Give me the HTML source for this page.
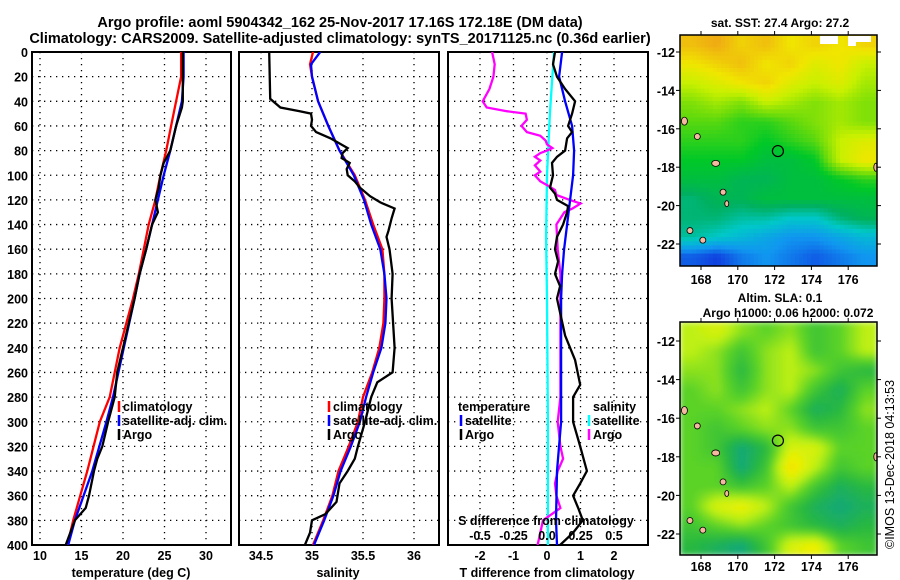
<!DOCTYPE html>
<html><head><meta charset="utf-8"><style>
body{margin:0;background:#fff;}
svg{display:block;font-family:"Liberation Sans",sans-serif;font-weight:bold;}
</style></head><body>
<svg id="chart" width="900" height="580" viewBox="0 0 900 580" xmlns="http://www.w3.org/2000/svg">
<defs>
<filter id="blur" x="0" y="0" width="1" height="1"><feGaussianBlur stdDeviation="3"/></filter>
<clipPath id="clipTop"><rect x="680" y="35" width="197" height="231"/></clipPath>
<clipPath id="clipBot"><rect x="680" y="322" width="197" height="233"/></clipPath>
<clipPath id="c1"><rect x="32" y="52" width="199" height="493"/></clipPath>
<clipPath id="c2"><rect x="239" y="52" width="200" height="493"/></clipPath>
<clipPath id="c3"><rect x="448" y="52" width="200" height="493"/></clipPath>
</defs>
<text x="340" y="27" font-size="14.5" text-anchor="middle">Argo profile: aoml 5904342_162 25-Nov-2017 17.16S 172.18E (DM data)</text>
<text x="340" y="43" font-size="14.5" text-anchor="middle">Climatology: CARS2009. Satellite-adjusted climatology: synTS_20171125.nc (0.36d earlier)</text>
<text x="780" y="27" font-size="12" text-anchor="middle">sat. SST: 27.4 Argo: 27.2</text>
<text x="780" y="302" font-size="12" text-anchor="middle">Altim. SLA: 0.1</text>
<text x="788" y="317" font-size="12" text-anchor="middle">Argo h1000: 0.06 h2000: 0.072</text>
<text transform="translate(894,549) rotate(-90)" font-size="12.5" font-weight="normal">©IMOS 13-Dec-2018 04:13:53</text>
<g id="g1"></g>
<g id="g2"></g>
<g id="g3"></g>
<g id="gm1"></g>
<g id="gm2"></g>
</svg>
<script>
// ---------- data ----------
const depthTicks=[0,20,40,60,80,100,120,140,160,180,200,220,240,260,280,300,320,340,360,380,400];
const tTicks=[10,15,20,25,30];
const sTicks=[34.5,35,35.5,36];
const dTTicks=[-2,-1,0,1,2];
const dSTicks=[-0.5,-0.25,0,0.25,0.5];
const dSTickLabels=["-0.5","-0.25","0.0","0.25","0.5"];

const climTDepth=[0,20,40,60,80,100,120,140,160,180,200,240,280,300,340,380,400];
const climT=[27.0,27.0,26.4,25.8,25.2,24.5,23.9,23.1,22.5,21.9,21.2,19.6,18.4,17.2,15.7,14.0,13.3];
const satT=[27.3,27.3,27.1,26.4,25.7,24.9,24.2,23.5,22.8,22.0,21.4,20.1,18.8,18.0,16.3,14.2,13.4];
const argoTDepth=[0,20,40,45,60,80,90,100,110,120,130,140,160,180,200,260,280,300,320,330,340,360,370,380,400];
const argoT=[27.2,27.2,27.2,27.1,26.4,25.7,24.9,24.5,24.3,23.9,24.2,23.5,22.8,22.0,21.4,19.3,19.0,18.2,17.5,16.9,16.5,15.9,15.5,14.2,13.1];

const climSDepth=[0,10,20,40,60,80,100,120,140,160,180,200,220,240,260,280,300,320,340,360,380,400];
const climS=[35.01,34.98,35.00,35.06,35.16,35.27,35.42,35.52,35.60,35.69,35.71,35.71,35.70,35.66,35.59,35.50,35.45,35.36,35.26,35.20,35.11,35.01];
const satS=[35.08,34.99,35.00,35.06,35.16,35.27,35.41,35.51,35.58,35.67,35.71,35.73,35.72,35.68,35.60,35.53,35.47,35.38,35.28,35.21,35.12,35.02];
const argoSDepth=[0,38,45,48,50,55,60,65,70,78,82,86,90,95,100,105,110,117,122,127,135,145,150,160,180,200,240,260,268,280,300,320,330,340,350,365,375,380,390,400];
const argoS=[34.58,34.59,34.69,34.88,34.99,35.00,34.99,35.04,35.18,35.35,35.30,35.29,35.37,35.34,35.35,35.42,35.47,35.57,35.67,35.81,35.78,35.75,35.73,35.76,35.79,35.78,35.81,35.79,35.64,35.58,35.52,35.45,35.42,35.35,35.27,35.24,35.13,35.00,34.98,34.93];

const satDTDepth=[0,20,40,60,80,100,120,140,160,180,200,300,340,380,400];
const satDT=[0.45,0.36,0.54,0.75,0.81,0.78,0.69,0.60,0.51,0.45,0.42,0.42,0.30,0.27,0.30];
const argoDTDepth=[0,10,20,30,40,50,60,65,70,80,85,90,100,110,115,120,125,130,140,150,160,170,180,190,200,230,250,270,280,300,320,340,350,360,370,380,390,400];
const argoDT=[0.24,0.18,0.30,0.54,0.84,0.75,0.63,0.75,0.60,0.54,0.30,0.15,0.18,0.09,0.24,0.30,0.63,0.60,0.48,0.30,0.24,0.33,0.24,0.39,0.30,0.54,0.84,0.99,0.78,0.78,0.99,1.19,0.99,0.78,0.93,1.07,0.78,0.39];
const satDSDepth=[0,50,100,150,200,300,400];
const satDS=[0.052,0.022,0,-0.007,0,0.007,0.007];
const argoDSDepth=[0,10,20,30,40,45,48,50,55,60,65,68,72,75,78,80,82,85,88,92,97,100,105,108,112,116,120,123,127,130,135,140,160,180,200,240,280,300,320,330,340,350,360,370,380,390,400];
const argoDS=[-0.41,-0.39,-0.40,-0.43,-0.48,-0.45,-0.30,-0.16,-0.15,-0.19,-0.15,-0.05,-0.01,0,0.04,0,-0.05,-0.09,-0.05,-0.09,-0.05,-0.09,-0.05,0,0.06,0.07,0.17,0.25,0.19,0.13,0.10,0.07,0.08,0.10,0.10,0.10,0.10,0.08,0.10,0.12,0.08,0.06,0.07,0.10,-0.03,-0.05,-0.07];

const lonTicks=[168,170,172,174,176];
const latTicks=[-12,-14,-16,-18,-20,-22];
const argoLon=172.18, argoLat=-17.16;
const sstGrid=[
[28.2,28.3,28.1,28.2,28.0,28.1,28.0,28.1],
[28.0,28.1,28.2,28.0,28.1,27.9,28.0,27.8],
[27.8,27.9,28.0,28.1,27.9,27.8,27.9,27.7],
[27.6,27.7,27.6,27.8,27.7,27.6,27.7,27.6],
[27.5,27.5,27.4,27.4,27.5,27.6,27.7,27.6],
[27.4,27.4,27.4,27.3,27.4,27.5,27.8,27.9],
[27.3,27.3,27.3,27.2,27.2,27.3,27.8,28.0],
[27.2,27.2,27.1,27.1,27.2,27.2,27.3,27.4],
[27.0,27.1,27.1,27.2,27.2,27.2,27.2,27.2],
[27.0,27.0,26.9,26.9,26.8,26.8,27.0,27.1],
[26.9,26.8,26.7,26.6,26.5,26.5,26.6,26.7],
[26.3,26.2,26.4,26.5,26.4,26.3,26.4,26.5]];
const slaGrid=[
[0.5,0.6,0.4,0.3,0.4,0.2,0.3,0.5],
[0.5,0.4,0.2,0.4,0.5,0.2,0.3,0.5],
[0.4,0.4,0.1,0.4,0.5,0.4,0.2,0.1],
[0.3,0.4,0.2,0.4,0.5,0.2,0.0,0.3],
[0.3,0.3,0.4,0.5,0.3,0.0,0.1,0.4],
[0.3,0.2,0.3,0.4,0.4,0.2,0.2,0.3],
[0.3,0.2,-0.1,0.1,0.6,0.6,0.3,0.3],
[0.3,0.3,-0.1,0.2,0.8,0.5,0.2,0.3],
[0.3,0.3,0.2,0.3,0.5,0.2,0.0,0.1],
[0.3,0.6,0.7,0.5,0.2,0.0,-0.1,0.0],
[0.2,0.3,0.4,0.3,0.2,0.1,0.0,0.1],
[0.1,0.0,-0.1,0.2,0.6,0.7,0.3,0.2]];

// ---------- helpers ----------
const NS="http://www.w3.org/2000/svg";
function mk(p,tag,at){const e=document.createElementNS(NS,tag);for(const k in at)e.setAttribute(k,at[k]);p.appendChild(e);return e;}
const yD=d=>52+d*1.2325;
const xT=t=>40+(t-10)*8.3;
const xS=s=>261+(s-34.5)*102;
const xDT=t=>547+t*33.5;
const xDS=s=>547+s*134;

function frame(g,x0,x1,vx,showDepth){
  depthTicks.forEach(d=>{const l=mk(g,'line',{x1:x0,x2:x1,y1:yD(d),y2:yD(d),stroke:'#000','stroke-width':1.3,'stroke-dasharray':'1.3 4.7'});
    
    
    if(showDepth){const t=mk(g,'text',{x:28,y:yD(d)+5,'font-size':12.5,'text-anchor':'end'});t.textContent=d;
      
      }
  });
  vx.forEach(x=>{const l=mk(g,'line',{x1:x,x2:x,y1:52,y2:545,stroke:'#000','stroke-width':1.3,'stroke-dasharray':'1.3 4.7'});
    
    });
  const r=mk(g,'rect',{x:x0,y:52,width:x1-x0,height:493,fill:'none',stroke:'#000','stroke-width':2});
  
  
}
function line(g,xs,ds,xf,col,clip,name){
  const pts=xs.map((v,i)=>xf(v).toFixed(1)+','+yD(ds[i]).toFixed(1)).join(' ');
  const p=mk(g,'polyline',{points:pts,fill:'none',stroke:col,'stroke-width':2.3,'clip-path':'url(#'+clip+')'});
  
  
}
function label(g,x,y,txt,name,anchor,size){const t=mk(g,'text',{x:x,y:y,'font-size':size||12.5,'text-anchor':anchor||'middle'});t.textContent=txt;
  
  return t;}
function legend(g,x,y,col,txt,name){
  const l=mk(g,'line',{x1:x,x2:x,y1:y-10,y2:y+1,stroke:col,'stroke-width':2.5});
  
  
  label(g,x+4,y,txt,name,'start',12.5);
}

// panel 1
const g1=document.getElementById('g1');
frame(g1,32,231,tTicks.map(xT),true);
tTicks.forEach(t=>label(g1,xT(t),560,t,'temperature-tick-label'));
label(g1,131,577,'temperature (deg C)','x-axis-title-temperature');
line(g1,climT,climTDepth,xT,'#ff0000','c1','climatology-temperature-line');
line(g1,satT,climTDepth,xT,'#0000ff','c1','satellite-temperature-line');
line(g1,argoT,argoTDepth,xT,'#000000','c1','argo-temperature-line');
legend(g1,119,411,'#ff0000','climatology','legend-climatology');
legend(g1,119,425,'#0000ff','satellite-adj. clim.','legend-satellite');
legend(g1,119,439,'#000000','Argo','legend-argo');

// panel 2
const g2=document.getElementById('g2');
frame(g2,239,439,sTicks.map(xS),false);
sTicks.forEach(s=>label(g2,xS(s),560,s,'salinity-tick-label'));
label(g2,338,577,'salinity','x-axis-title-salinity');
line(g2,climS,climSDepth,xS,'#ff0000','c2','climatology-salinity-line');
line(g2,satS,climSDepth,xS,'#0000ff','c2','satellite-salinity-line');
line(g2,argoS,argoSDepth,xS,'#000000','c2','argo-salinity-line');
legend(g2,329,411,'#ff0000','climatology','legend-climatology');
legend(g2,329,425,'#0000ff','satellite-adj. clim.','legend-satellite');
legend(g2,329,439,'#000000','Argo','legend-argo');

// panel 3
const g3=document.getElementById('g3');
frame(g3,448,648,dTTicks.map(xDT),false);
dTTicks.forEach(t=>label(g3,xDT(t),560,t,'t-diff-tick-label'));
label(g3,547,577,'T difference from climatology','x-axis-title-t-difference');
line(g3,satDS,satDSDepth,xDS,'#00ffff','c3','satellite-salinity-diff-line');
line(g3,argoDS,argoDSDepth,xDS,'#ff00ff','c3','argo-salinity-diff-line');
line(g3,satDT,satDTDepth,xDT,'#0000ff','c3','satellite-temperature-diff-line');
line(g3,argoDT,argoDTDepth,xDT,'#000000','c3','argo-temperature-diff-line');
label(g3,458,411,'temperature','legend-temperature-heading','start');
legend(g3,461,425,'#0000ff','satellite','legend-t-satellite');
legend(g3,461,439,'#000000','Argo','legend-t-argo');
label(g3,593,411,'salinity','legend-salinity-heading','start');
legend(g3,589,425,'#00ffff','satellite','legend-s-satellite');
legend(g3,589,439,'#ff00ff','Argo','legend-s-argo');
label(g3,546,525,'S difference from climatology','s-diff-axis-title');
dSTicks.forEach((s,i)=>label(g3,xDS(s),540,dSTickLabels[i],'s-diff-tick-label'));

// maps
function lerpCol(stops,v){
  if(v<=stops[0][0])return 'rgb('+stops[0][1].join(',')+')';
  for(let i=1;i<stops.length;i++){if(v<=stops[i][0]){const a=stops[i-1],b=stops[i],f=(v-a[0])/(b[0]-a[0]);
    return 'rgb('+[0,1,2].map(k=>Math.round(a[1][k]+(b[1][k]-a[1][k])*f)).join(',')+')';}}
  return 'rgb('+stops[stops.length-1][1].join(',')+')';
}
const sstStops=[[26.2,[16,64,224]],[26.5,[16,150,240]],[26.8,[0,200,200]],[27.05,[0,176,96]],[27.3,[0,200,40]],[27.55,[110,220,10]],[27.8,[200,240,0]],[28.0,[240,230,0]],[28.3,[240,170,20]]];
const slaStops=[[-0.1,[20,168,120]],[0.1,[40,184,64]],[0.3,[90,210,40]],[0.5,[190,240,20]],[0.7,[240,240,0]],[0.9,[240,190,0]]];

function sample(grid,fy,fx){
  const rows=grid.length,cols=grid[0].length;
  const gy=Math.min(Math.max(fy*rows-0.5,0),rows-1),gx=Math.min(Math.max(fx*cols-0.5,0),cols-1);
  const r0=Math.floor(gy),c0=Math.floor(gx),r1=Math.min(r0+1,rows-1),c1=Math.min(c0+1,cols-1);
  const ty=gy-r0,tx=gx-c0;
  return (grid[r0][c0]*(1-tx)+grid[r0][c1]*tx)*(1-ty)+(grid[r1][c0]*(1-tx)+grid[r1][c1]*tx)*ty;
}
function drawMap(gid,grid,stops,y0,h,latY,clip,blur,lonLabelY,sub){
  const g=document.getElementById(gid);
  const x0=680,w=197;
  const cg=mk(g,'g',{'clip-path':'url(#'+clip+')'});
  const inner=mk(cg,'g',blur?{filter:'url(#blur)'}:{});
  const nx=Math.round(w/sub),ny=Math.round(h/sub),cw=w/nx,ch=h/ny;
  for(let r=0;r<ny;r++)for(let c=0;c<nx;c++){
    const v=sample(grid,(r+0.5)/ny,(c+0.5)/nx);
    const cell=mk(inner,'rect',{x:(x0+c*cw).toFixed(1),y:(y0+r*ch).toFixed(1),width:(cw+0.5).toFixed(1),height:(ch+0.5).toFixed(1),fill:lerpCol(stops,v)});
    
    
  }
  [[167.1,-15.6,3,4],[167.8,-16.4,3,3],[168.8,-17.8,4,3],[169.2,-19.3,3,3],[169.4,-19.9,2,3],[167.4,-21.3,3,3],[168.1,-21.8,3,3],[177.5,-18.0,2,4]].forEach(p=>{
    const isl=mk(cg,'ellipse',{cx:701+(p[0]-168)*18.4,cy:latY(p[1]),rx:p[2],ry:p[3],fill:'#f4b8a0',stroke:'#000','stroke-width':0.8});
    
    
  });
  const ring=mk(g,'circle',{cx:701+(argoLon-168)*18.4,cy:latY(argoLat),r:5.5,fill:'none',stroke:'#000','stroke-width':1.2});
  
  
  const fr=mk(g,'rect',{x:x0,y:y0,width:w,height:h,fill:'none',stroke:'#000','stroke-width':1.5});
  
  
  lonTicks.forEach(lo=>{const x=701+(lo-168)*18.4;
    mk(g,'line',{x1:x,x2:x,y1:y0,y2:y0-4,stroke:'#000'});
    mk(g,'line',{x1:x,x2:x,y1:y0+h,y2:y0+h+4,stroke:'#000'});
    label(g,x,lonLabelY,lo,'longitude-tick-label');});
  latTicks.forEach(la=>{const y=latY(la);
    mk(g,'line',{x1:x0,x2:x0-4,y1:y,y2:y,stroke:'#000'});
    mk(g,'line',{x1:x0+w,x2:x0+w+4,y1:y,y2:y,stroke:'#000'});
    label(g,675,y+5,la,'latitude-tick-label','end');});
}
drawMap('gm1',sstGrid,sstStops,35,231,la=>52+(-12-la)*19.2,'clipTop',false,284,4.1);
drawMap('gm2',slaGrid,slaStops,322,233,la=>341+(-12-la)*19.3,'clipBot',true,571,4.1);
[[740,36,18,8],[768,36,8,10],[776,36,15,6],[860,46,16,8]].forEach(p=>{
  const r=mk(document.getElementById('gm1'),'rect',{x:p[0]+80,y:p[1],width:p[2],height:p[3],fill:'#fff'});
  
  
});
</script>
</body></html>
